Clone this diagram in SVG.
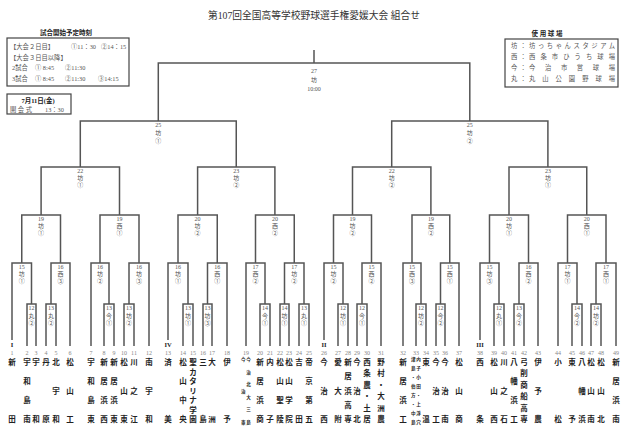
<svg xmlns="http://www.w3.org/2000/svg" width="625" height="434" viewBox="0 0 625 434">
<style>
.bg{fill:#fff}
.ln{fill:none;stroke:#555;stroke-width:1.5}
.bx{fill:none;stroke:#444;stroke-width:1.2}
.t{font-family:"Liberation Serif","Noto Sans CJK JP",serif;fill:#333}
.lb{font-family:"Liberation Serif","Noto Sans CJK JP",serif;font-size:6px;fill:#555;text-anchor:middle}
.num{font-family:"Liberation Serif",serif;font-size:6px;fill:#888;text-anchor:middle}
.nm{font-family:"Noto Sans CJK JP",sans-serif;font-size:7.5px;fill:#222;text-anchor:middle;font-weight:bold}
.cb{font-family:"Noto Sans CJK JP",sans-serif;font-size:4.6px;fill:#222;text-anchor:middle;font-weight:bold}
.sd{font-family:"Liberation Serif",serif;font-size:6.5px;fill:#222;text-anchor:middle;font-weight:bold}
.sm{font-family:"Liberation Serif","Noto Sans CJK JP",serif;font-size:6.3px;fill:#555}
.hd{font-family:"Liberation Serif","Noto Sans CJK JP",serif;font-size:6.5px;fill:#222;font-weight:bold;text-anchor:middle}
</style>
<rect class="bg" x="0" y="0" width="625" height="434"/>
<text class="t" x="208" y="19" font-size="10" textLength="212" lengthAdjust="spacingAndGlyphs">第107回全国高等学校野球選手権愛媛大会 組合せ</text>

<g id="schedule">
<text class="hd" x="66" y="35">試合開始予定時刻</text>
<rect class="bx" x="7" y="38" width="122" height="48"/>
<text class="sm" x="10" y="49">【大会２日目】</text><text class="sm" x="71" y="49">①11：30</text><text class="sm" x="101" y="49">②14：15</text>
<text class="sm" x="10" y="59.5">【大会３日目以降】</text>
<text class="sm" x="12" y="70">2試合</text><text class="sm" x="35" y="70">① 8:45</text><text class="sm" x="65" y="70">②11:30</text>
<text class="sm" x="12" y="81">3試合</text><text class="sm" x="35" y="81">① 8:45</text><text class="sm" x="65" y="81">②11:30</text><text class="sm" x="98" y="81">③14:15</text>
</g>
<g id="opening">
<rect class="bx" x="7" y="94" width="64" height="20"/>
<text class="hd" x="38" y="102.5">7月11日(金)</text>
<text class="sm" x="10" y="111.5">開 会 式</text><text class="sm" x="45" y="111.5">13：30</text>
</g>
<g id="venues">
<text class="hd" x="547" y="36">使 用 球 場</text>
<rect class="bx" x="505" y="39" width="113" height="48"/>
<text class="sm" x="511" y="47.5">坊</text><text class="sm" x="520" y="47.5">：</text><text class="sm" x="529" y="47.5" textLength="86" lengthAdjust="spacing">坊っちゃんスタジアム</text>
<text class="sm" x="511" y="58.5">西</text><text class="sm" x="520" y="58.5">：</text><text class="sm" x="529" y="58.5" textLength="86" lengthAdjust="spacing">西条市ひうち球場</text>
<text class="sm" x="511" y="69.5">今</text><text class="sm" x="520" y="69.5">：</text><text class="sm" x="529" y="69.5" textLength="86" lengthAdjust="spacing">今治市営球場</text>
<text class="sm" x="511" y="80.5">丸</text><text class="sm" x="520" y="80.5">：</text><text class="sm" x="529" y="80.5" textLength="86" lengthAdjust="spacing">丸山公園野球場</text>
</g>

<g id="connectors" class="ln">
<path d="M27,346V304H36V346M46,346V304H56V346M104,346V304H114V346M124,346V304H134V346M183,346V304H193V346M203,346V304H212V346M260,346V304H270V346M280,346V304H289V346M299,346V304H309V346M338,346V304H348V346M357,346V304H367V346M416,346V304H426V346M436,346V304H445V346M494,346V304H504V346M514,346V304H524V346M572,346V304H582V346M591,346V304H601V346"/>
<path d="M12,340V263H31.5V304M51,304V263H70V346M91,346V263H109V304M129,304V263H149V346M168,340V263H188V304M207.5,304V263H227V346M246,346V263H265V304M284.5,304V263H304V304M324,340V263H343V304M362,304V263H381V346M403,346V263H421V304M440.5,304V263H459V346M480,340V263H499V304M519,304V263H538V346M558,346V263H577V304M596,304V263H616V346"/>
<path d="M21.75,263V215H60.5V263M100,263V215H139V263M178,263V215H217.25V263M255.5,263V215H294.25V263M333.5,263V215H371.5V263M412,263V215H449.75V263M489.5,263V215H528.5V263M567.5,263V215H606V263"/>
<path d="M41.1,215V167H119.5V215M197.6,215V167H274.9V215M352.5,215V167H430.9V215M509,215V167H586.75V215"/>
<path d="M80.3,167V121H236.25V167M391.7,167V121H547.9V167"/>
<path d="M158.3,121V63H469.8V121M314,63V50"/>
</g>

<g id="matches">
<g id="m27"><text class="lb" x="314" y="73">27<tspan x="314" y="82">坊</tspan><tspan x="314" y="91">10:00</tspan></text></g>
<g id="m25a"><text class="lb" x="158.3" y="127">25<tspan x="158.3" y="135">坊</tspan><tspan x="158.3" y="143">①</tspan></text></g>
<g id="m25b"><text class="lb" x="469.8" y="127">25<tspan x="469.8" y="135">坊</tspan><tspan x="469.8" y="143">②</tspan></text></g>
<g id="m22a"><text class="lb" x="80.3" y="173">22<tspan x="80.3" y="180">坊</tspan><tspan x="80.3" y="187">①</tspan></text></g>
<g id="m23a"><text class="lb" x="236.25" y="173">23<tspan x="236.25" y="180">坊</tspan><tspan x="236.25" y="187">②</tspan></text></g>
<g id="m22b"><text class="lb" x="391.7" y="173">22<tspan x="391.7" y="180">坊</tspan><tspan x="391.7" y="187">②</tspan></text></g>
<g id="m23b"><text class="lb" x="547.9" y="173">23<tspan x="547.9" y="180">坊</tspan><tspan x="547.9" y="187">①</tspan></text></g>
<g id="m19a"><text class="lb" x="41.1" y="221">19<tspan x="41.1" y="228">坊</tspan><tspan x="41.1" y="235">①</tspan></text></g>
<g id="m19b"><text class="lb" x="119.5" y="221">19<tspan x="119.5" y="228">西</tspan><tspan x="119.5" y="235">①</tspan></text></g>
<g id="m20a"><text class="lb" x="197.6" y="221">20<tspan x="197.6" y="228">坊</tspan><tspan x="197.6" y="235">②</tspan></text></g>
<g id="m20b"><text class="lb" x="274.9" y="221">20<tspan x="274.9" y="228">西</tspan><tspan x="274.9" y="235">②</tspan></text></g>
<g id="m19c"><text class="lb" x="352.5" y="221">19<tspan x="352.5" y="228">坊</tspan><tspan x="352.5" y="235">②</tspan></text></g>
<g id="m19d"><text class="lb" x="430.9" y="221">19<tspan x="430.9" y="228">西</tspan><tspan x="430.9" y="235">②</tspan></text></g>
<g id="m20c"><text class="lb" x="509" y="221">20<tspan x="509" y="228">坊</tspan><tspan x="509" y="235">①</tspan></text></g>
<g id="m20d"><text class="lb" x="586.75" y="221">20<tspan x="586.75" y="228">西</tspan><tspan x="586.75" y="235">①</tspan></text></g>
<g id="m15a"><text class="lb" x="21.75" y="269">15<tspan x="21.75" y="276">坊</tspan><tspan x="21.75" y="283">①</tspan></text></g>
<g id="m16a"><text class="lb" x="60.5" y="269">16<tspan x="60.5" y="276">西</tspan><tspan x="60.5" y="283">③</tspan></text></g>
<g id="m16b"><text class="lb" x="100" y="269">16<tspan x="100" y="276">坊</tspan><tspan x="100" y="283">②</tspan></text></g>
<g id="m16c"><text class="lb" x="139" y="269">16<tspan x="139" y="276">坊</tspan><tspan x="139" y="283">③</tspan></text></g>
<g id="m16d"><text class="lb" x="178" y="269">16<tspan x="178" y="276">坊</tspan><tspan x="178" y="283">①</tspan></text></g>
<g id="m16e"><text class="lb" x="217.25" y="269">16<tspan x="217.25" y="276">西</tspan><tspan x="217.25" y="283">①</tspan></text></g>
<g id="m17a"><text class="lb" x="255.5" y="269">17<tspan x="255.5" y="276">西</tspan><tspan x="255.5" y="283">②</tspan></text></g>
<g id="m17b"><text class="lb" x="294.25" y="269">17<tspan x="294.25" y="276">坊</tspan><tspan x="294.25" y="283">②</tspan></text></g>
<g id="m15b"><text class="lb" x="333.5" y="269">15<tspan x="333.5" y="276">坊</tspan><tspan x="333.5" y="283">②</tspan></text></g>
<g id="m15c"><text class="lb" x="371.5" y="269">15<tspan x="371.5" y="276">西</tspan><tspan x="371.5" y="283">②</tspan></text></g>
<g id="m15d"><text class="lb" x="412" y="269">15<tspan x="412" y="276">西</tspan><tspan x="412" y="283">③</tspan></text></g>
<g id="m15e"><text class="lb" x="449.75" y="269">15<tspan x="449.75" y="276">西</tspan><tspan x="449.75" y="283">①</tspan></text></g>
<g id="m15f"><text class="lb" x="489.5" y="269">15<tspan x="489.5" y="276">坊</tspan><tspan x="489.5" y="283">③</tspan></text></g>
<g id="m16f"><text class="lb" x="528.5" y="269">16<tspan x="528.5" y="276">西</tspan><tspan x="528.5" y="283">②</tspan></text></g>
<g id="m17c"><text class="lb" x="567.5" y="269">17<tspan x="567.5" y="276">坊</tspan><tspan x="567.5" y="283">①</tspan></text></g>
<g id="m17d"><text class="lb" x="606" y="269">17<tspan x="606" y="276">西</tspan><tspan x="606" y="283">①</tspan></text></g>
<g id="m12a"><text class="lb" x="31.5" y="310">12<tspan x="31.5" y="317.5">丸</tspan><tspan x="31.5" y="325">②</tspan></text></g>
<g id="m13a"><text class="lb" x="51" y="310">13<tspan x="51" y="317.5">丸</tspan><tspan x="51" y="325">②</tspan></text></g>
<g id="m13b"><text class="lb" x="109" y="310">13<tspan x="109" y="317.5">今</tspan><tspan x="109" y="325">①</tspan></text></g>
<g id="m13c"><text class="lb" x="129" y="310">13<tspan x="129" y="317.5">坊</tspan><tspan x="129" y="325">②</tspan></text></g>
<g id="m13d"><text class="lb" x="188" y="310">13<tspan x="188" y="317.5">坊</tspan><tspan x="188" y="325">①</tspan></text></g>
<g id="m13e"><text class="lb" x="207.5" y="310">13<tspan x="207.5" y="317.5">坊</tspan><tspan x="207.5" y="325">③</tspan></text></g>
<g id="m14a"><text class="lb" x="265" y="310">14<tspan x="265" y="317.5">今</tspan><tspan x="265" y="325">①</tspan></text></g>
<g id="m14b"><text class="lb" x="284.5" y="310">14<tspan x="284.5" y="317.5">坊</tspan><tspan x="284.5" y="325">①</tspan></text></g>
<g id="m13f"><text class="lb" x="304" y="310">13<tspan x="304" y="317.5">丸</tspan><tspan x="304" y="325">①</tspan></text></g>
<g id="m12b"><text class="lb" x="343" y="310">12<tspan x="343" y="317.5">坊</tspan><tspan x="343" y="325">①</tspan></text></g>
<g id="m12c"><text class="lb" x="362" y="310">12<tspan x="362" y="317.5">今</tspan><tspan x="362" y="325">①</tspan></text></g>
<g id="m12d"><text class="lb" x="421" y="310">12<tspan x="421" y="317.5">坊</tspan><tspan x="421" y="325">②</tspan></text></g>
<g id="m12e"><text class="lb" x="440.5" y="310">12<tspan x="440.5" y="317.5">今</tspan><tspan x="440.5" y="325">②</tspan></text></g>
<g id="m12f"><text class="lb" x="499" y="310">12<tspan x="499" y="317.5">丸</tspan><tspan x="499" y="325">①</tspan></text></g>
<g id="m13g"><text class="lb" x="519" y="310">13<tspan x="519" y="317.5">今</tspan><tspan x="519" y="325">②</tspan></text></g>
<g id="m14c"><text class="lb" x="577" y="310">14<tspan x="577" y="317.5">今</tspan><tspan x="577" y="325">②</tspan></text></g>
<g id="m14d"><text class="lb" x="596" y="310">14<tspan x="596" y="317.5">坊</tspan><tspan x="596" y="325">②</tspan></text></g>
</g>

<g id="seeds">
<text class="sd" x="12" y="346.5">I</text>
<text class="sd" x="168" y="346.5">IV</text>
<text class="sd" x="324" y="346.5">II</text>
<text class="sd" x="480" y="346.5">III</text>
</g>

<g id="teams">
<g id="t1"><text class="num" x="12" y="355">1</text><text class="nm" x="12" y="365">新<tspan x="12" y="422">田</tspan></text></g>
<g id="t2"><text class="num" x="27" y="355">2</text><text class="nm" x="27" y="365">宇<tspan x="27" y="384">和</tspan><tspan x="27" y="403">島</tspan><tspan x="27" y="422">南</tspan></text></g>
<g id="t3"><text class="num" x="36" y="355">3</text><text class="nm" x="36" y="365">宇<tspan x="36" y="422">和</tspan></text></g>
<g id="t4"><text class="num" x="46" y="355">4</text><text class="nm" x="46" y="365">丹<tspan x="46" y="422">原</tspan></text></g>
<g id="t5"><text class="num" x="56" y="355">5</text><text class="nm" x="56" y="365">北<tspan x="56" y="393.5">宇</tspan><tspan x="56" y="422">和</tspan></text></g>
<g id="t6"><text class="num" x="70" y="355">6</text><text class="nm" x="70" y="365">松<tspan x="70" y="393.5">山</tspan><tspan x="70" y="422">工</tspan></text></g>
<g id="t7"><text class="num" x="91" y="355">7</text><text class="nm" x="91" y="365">宇<tspan x="91" y="384">和</tspan><tspan x="91" y="403">島</tspan><tspan x="91" y="422">東</tspan></text></g>
<g id="t8"><text class="num" x="104" y="355">8</text><text class="nm" x="104" y="365">新<tspan x="104" y="384">居</tspan><tspan x="104" y="403">浜</tspan><tspan x="104" y="422">西</tspan></text></g>
<g id="t9"><text class="num" x="114" y="355">9</text><text class="nm" x="114" y="365">新<tspan x="114" y="384">居</tspan><tspan x="114" y="403">浜</tspan><tspan x="114" y="422">東</tspan></text></g>
<g id="t10"><text class="num" x="124" y="355">10</text><text class="nm" x="124" y="365">松<tspan x="124" y="393.5">山</tspan><tspan x="124" y="422">東</tspan></text></g>
<g id="t11"><text class="num" x="134" y="355">11</text><text class="nm" x="134" y="365">川<tspan x="134" y="393.5">之</tspan><tspan x="134" y="422">江</tspan></text></g>
<g id="t12"><text class="num" x="149" y="355">12</text><text class="nm" x="149" y="365">南<tspan x="149" y="393.5">宇</tspan><tspan x="149" y="422">和</tspan></text></g>
<g id="t13"><text class="num" x="168" y="355">13</text><text class="nm" x="168" y="365">済<tspan x="168" y="422">美</tspan></text></g>
<g id="t14"><text class="num" x="183" y="355">14</text><text class="nm" x="183" y="365">松<tspan x="183" y="384">山</tspan><tspan x="183" y="403">中</tspan><tspan x="183" y="422">央</tspan></text></g>
<g id="t15"><text class="num" x="193" y="355">15</text><text class="nm" x="193" y="365">聖<tspan x="193" y="374.5">カ</tspan><tspan x="193" y="384">タ</tspan><tspan x="193" y="393.5">リ</tspan><tspan x="193" y="403">ナ</tspan><tspan x="193" y="412.5">学</tspan><tspan x="193" y="422">園</tspan></text></g>
<g id="t16"><text class="num" x="203" y="355">16</text><text class="nm" x="203" y="365">三<tspan x="203" y="422">島</tspan></text></g>
<g id="t17"><text class="num" x="212" y="355">17</text><text class="nm" x="212" y="365">大<tspan x="212" y="422">洲</tspan></text></g>
<g id="t18"><text class="num" x="227" y="355">18</text><text class="nm" x="227" y="365">伊<tspan x="227" y="422">予</tspan></text></g>
<g id="t19"><text class="num" x="246" y="355">19</text><text class="cb" x="248.6" y="361">今<tspan x="248.6" y="373.6">治</tspan><tspan x="248.6" y="386.2">北</tspan><tspan x="248.6" y="398.8">大</tspan><tspan x="248.6" y="411.4">三</tspan><tspan x="248.6" y="424">島</tspan></text><text class="cb" x="243.4" y="361">今<tspan x="243.4" y="392.5">治</tspan><tspan x="243.4" y="424">東</tspan></text></g>
<g id="t20"><text class="num" x="260" y="355">20</text><text class="nm" x="260" y="365">新<tspan x="260" y="384">居</tspan><tspan x="260" y="403">浜</tspan><tspan x="260" y="422">商</tspan></text></g>
<g id="t21"><text class="num" x="270" y="355">21</text><text class="nm" x="270" y="365">内<tspan x="270" y="422">子</tspan></text></g>
<g id="t22"><text class="num" x="280" y="355">22</text><text class="nm" x="280" y="365">松<tspan x="280" y="384">山</tspan><tspan x="280" y="403">聖</tspan><tspan x="280" y="422">陵</tspan></text></g>
<g id="t23"><text class="num" x="289" y="355">23</text><text class="nm" x="289" y="365">松<tspan x="289" y="384">山</tspan><tspan x="289" y="403">学</tspan><tspan x="289" y="422">院</tspan></text></g>
<g id="t24"><text class="num" x="299" y="355">24</text><text class="nm" x="299" y="365">吉<tspan x="299" y="422">田</tspan></text></g>
<g id="t25"><text class="num" x="309" y="355">25</text><text class="nm" x="309" y="365">帝<tspan x="309" y="384">京</tspan><tspan x="309" y="403">第</tspan><tspan x="309" y="422">五</tspan></text></g>
<g id="t26"><text class="num" x="324" y="355">26</text><text class="nm" x="324" y="365">今<tspan x="324" y="393.5">治</tspan><tspan x="324" y="422">西</tspan></text></g>
<g id="t27"><text class="num" x="338" y="355">27</text><text class="nm" x="338" y="365">愛<tspan x="338" y="393.5">大</tspan><tspan x="338" y="422">附</tspan></text></g>
<g id="t28"><text class="num" x="348" y="355">28</text><text class="nm" x="348" y="365">新<tspan x="348" y="379.3">居</tspan><tspan x="348" y="393.5">浜</tspan><tspan x="348" y="407.8">高</tspan><tspan x="348" y="422">専</tspan></text></g>
<g id="t29"><text class="num" x="357" y="355">29</text><text class="nm" x="357" y="365">今<tspan x="357" y="393.5">治</tspan><tspan x="357" y="422">北</tspan></text></g>
<g id="t30"><text class="num" x="367" y="355">30</text><text class="nm" x="367" y="365">西<tspan x="367" y="376.4">条</tspan><tspan x="367" y="387.8">農</tspan><tspan x="367" y="399.2">・</tspan><tspan x="367" y="410.6">土</tspan><tspan x="367" y="422">居</tspan></text></g>
<g id="t31"><text class="num" x="381" y="355">31</text><text class="nm" x="381" y="365">野<tspan x="381" y="376.4">村</tspan><tspan x="381" y="387.8">・</tspan><tspan x="381" y="399.2">大</tspan><tspan x="381" y="410.6">洲</tspan><tspan x="381" y="422">農</tspan></text></g>
<g id="t32"><text class="num" x="403" y="355">32</text><text class="nm" x="403" y="365">新<tspan x="403" y="384">居</tspan><tspan x="403" y="403">浜</tspan><tspan x="403" y="422">工</tspan></text></g>
<g id="t33"><text class="num" x="416" y="355">33</text><text class="cb" x="418.6" y="361">内<tspan x="418.6" y="370">子</tspan><tspan x="418.6" y="379">小</tspan><tspan x="418.6" y="388">田</tspan><tspan x="418.6" y="397">・</tspan><tspan x="418.6" y="406">上</tspan><tspan x="418.6" y="415">浮</tspan><tspan x="418.6" y="424">穴</tspan></text><text class="cb" x="413.4" y="361">津<tspan x="413.4" y="370">島</tspan><tspan x="413.4" y="379">・</tspan><tspan x="413.4" y="388">伯</tspan><tspan x="413.4" y="397">方</tspan><tspan x="413.4" y="406">・</tspan><tspan x="413.4" y="415">中</tspan><tspan x="413.4" y="424">島</tspan></text></g>
<g id="t34"><text class="num" x="426" y="355">34</text><text class="nm" x="426" y="365">東<tspan x="426" y="422">温</tspan></text></g>
<g id="t35"><text class="num" x="436" y="355">35</text><text class="nm" x="436" y="365">今<tspan x="436" y="393.5">治</tspan><tspan x="436" y="422">工</tspan></text></g>
<g id="t36"><text class="num" x="445" y="355">36</text><text class="nm" x="445" y="365">今<tspan x="445" y="393.5">治</tspan><tspan x="445" y="422">南</tspan></text></g>
<g id="t37"><text class="num" x="459" y="355">37</text><text class="nm" x="459" y="365">松<tspan x="459" y="393.5">山</tspan><tspan x="459" y="422">商</tspan></text></g>
<g id="t38"><text class="num" x="480" y="355">38</text><text class="nm" x="480" y="365">西<tspan x="480" y="422">条</tspan></text></g>
<g id="t39"><text class="num" x="494" y="355">39</text><text class="nm" x="494" y="365">松<tspan x="494" y="393.5">山</tspan><tspan x="494" y="422">西</tspan></text></g>
<g id="t40"><text class="num" x="504" y="355">40</text><text class="nm" x="504" y="365">川<tspan x="504" y="393.5">之</tspan><tspan x="504" y="422">石</tspan></text></g>
<g id="t41"><text class="num" x="514" y="355">41</text><text class="nm" x="514" y="365">八<tspan x="514" y="384">幡</tspan><tspan x="514" y="403">浜</tspan><tspan x="514" y="422">工</tspan></text></g>
<g id="t42"><text class="num" x="524" y="355">42</text><text class="nm" x="524" y="365">弓<tspan x="524" y="376.4">削</tspan><tspan x="524" y="387.8">商</tspan><tspan x="524" y="399.2">船</tspan><tspan x="524" y="410.6">高</tspan><tspan x="524" y="422">専</tspan></text></g>
<g id="t43"><text class="num" x="538" y="355">43</text><text class="nm" x="538" y="365">伊<tspan x="538" y="393.5">予</tspan><tspan x="538" y="422">農</tspan></text></g>
<g id="t44"><text class="num" x="558" y="355">44</text><text class="nm" x="558" y="365">小<tspan x="558" y="422">松</tspan></text></g>
<g id="t45"><text class="num" x="572" y="355">45</text><text class="nm" x="572" y="365">東<tspan x="572" y="422">予</tspan></text></g>
<g id="t46"><text class="num" x="582" y="355">46</text><text class="nm" x="582" y="365">八<tspan x="582" y="393.5">幡</tspan><tspan x="582" y="422">浜</tspan></text></g>
<g id="t47"><text class="num" x="591" y="355">47</text><text class="nm" x="591" y="365">松<tspan x="591" y="393.5">山</tspan><tspan x="591" y="422">南</tspan></text></g>
<g id="t48"><text class="num" x="601" y="355">48</text><text class="nm" x="601" y="365">松<tspan x="601" y="393.5">山</tspan><tspan x="601" y="422">北</tspan></text></g>
<g id="t49"><text class="num" x="616" y="355">49</text><text class="nm" x="616" y="365">新<tspan x="616" y="384">居</tspan><tspan x="616" y="403">浜</tspan><tspan x="616" y="422">南</tspan></text></g>
</g>
</svg>
